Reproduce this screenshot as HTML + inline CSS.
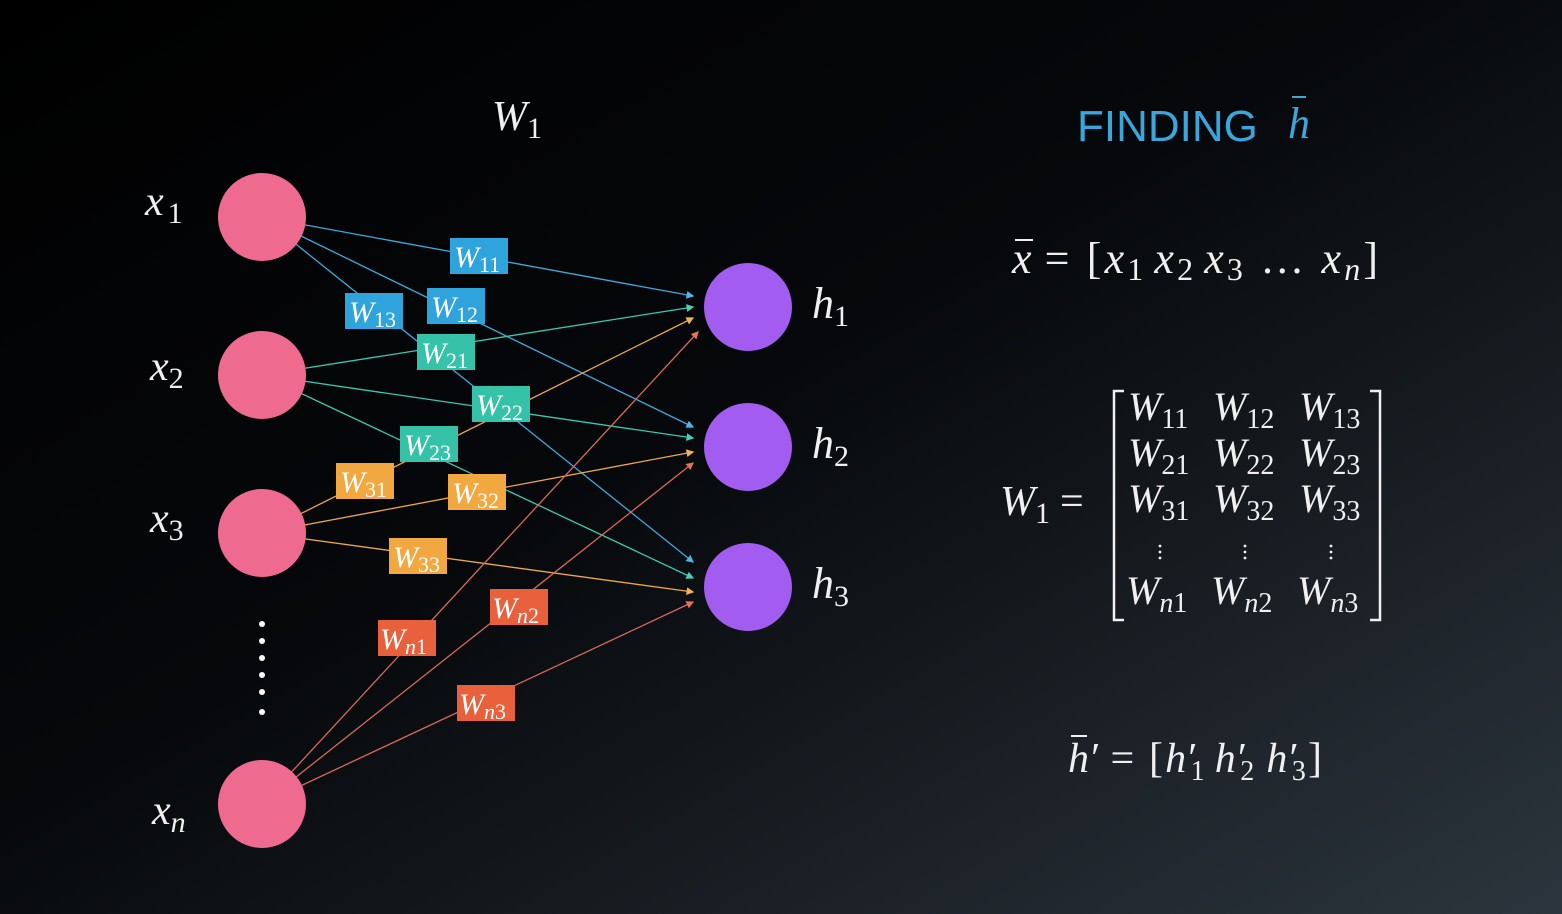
<!DOCTYPE html>
<html><head><meta charset="utf-8"><style>
html,body{margin:0;padding:0;width:1562px;height:914px;overflow:hidden;background:#000}
svg{display:block}
.m{font-family:"Liberation Serif",serif;font-style:italic;fill:#f0f0f0}
.u{font-family:"Liberation Serif",serif;font-style:normal;fill:#f0f0f0}
.lb{font-family:"Liberation Serif",serif;font-style:italic;fill:#fff;font-size:30px}
.lb .s{font-style:normal;fill:#fff}
</style></head><body>
<svg width="1562" height="914" viewBox="0 0 1562 914" xmlns="http://www.w3.org/2000/svg">
<defs>
<linearGradient id="bg" x1="0" y1="0" x2="1" y2="1">
<stop offset="0" stop-color="#000"/><stop offset="0.45" stop-color="#06080b"/><stop offset="1" stop-color="#2c353d"/>
</linearGradient>
<marker id="ab" markerWidth="6" markerHeight="6" refX="5" refY="3" orient="auto"><path d="M0,0 L6,3 L0,6z" fill="#4fb6e8"/></marker>
<marker id="at" markerWidth="6" markerHeight="6" refX="5" refY="3" orient="auto"><path d="M0,0 L6,3 L0,6z" fill="#49d0b6"/></marker>
<marker id="ao" markerWidth="6" markerHeight="6" refX="5" refY="3" orient="auto"><path d="M0,0 L6,3 L0,6z" fill="#f2b257"/></marker>
<marker id="ar" markerWidth="6" markerHeight="6" refX="5" refY="3" orient="auto"><path d="M0,0 L6,3 L0,6z" fill="#e8705a"/></marker>
</defs>
<rect width="1562" height="914" fill="url(#bg)"/>

<g stroke-width="1.3" fill="none">
<g stroke="#3fa9e0">
<line x1="262" y1="217" x2="693" y2="296" marker-end="url(#ab)"/>
<line x1="262" y1="217" x2="693" y2="427" marker-end="url(#ab)"/>
<line x1="262" y1="217" x2="693" y2="562" marker-end="url(#ab)"/>
</g>
<g stroke="#3cc8b0">
<line x1="262" y1="375" x2="693" y2="307" marker-end="url(#at)"/>
<line x1="262" y1="375" x2="693" y2="438" marker-end="url(#at)"/>
<line x1="262" y1="375" x2="693" y2="578" marker-end="url(#at)"/>
</g>
<g stroke="#eea648">
<line x1="262" y1="533" x2="693" y2="318" marker-end="url(#ao)"/>
<line x1="262" y1="533" x2="693" y2="452" marker-end="url(#ao)"/>
<line x1="262" y1="533" x2="693" y2="592" marker-end="url(#ao)"/>
</g>
<g stroke="#d8685a">
<line x1="262" y1="804" x2="698" y2="332" marker-end="url(#ar)"/>
<line x1="262" y1="804" x2="693" y2="463" marker-end="url(#ar)"/>
<line x1="262" y1="804" x2="693" y2="602" marker-end="url(#ar)"/>
</g>
</g>

<g fill="#ee6a8e">
<circle cx="262" cy="217" r="44"/><circle cx="262" cy="375" r="44"/>
<circle cx="262" cy="533" r="44"/><circle cx="262" cy="804" r="44"/>
</g>
<g fill="#fff">
<circle cx="262" cy="624" r="3"/><circle cx="262" cy="641" r="3"/><circle cx="262" cy="658" r="3"/>
<circle cx="262" cy="675" r="3"/><circle cx="262" cy="692" r="3"/><circle cx="262" cy="712" r="3"/>
</g>
<g fill="#a25cf0">
<circle cx="748" cy="307" r="44"/><circle cx="748" cy="447" r="44"/><circle cx="748" cy="587" r="44"/>
</g>

<!-- labels -->
<g>
<rect x="450" y="238" width="58" height="36" fill="#2ea3dc"/><text x="454" y="267" class="lb">W<tspan class="s" font-size="22" dy="5">11</tspan></text>
<rect x="345" y="293" width="58" height="36" fill="#2ea3dc"/><text x="349" y="322" class="lb">W<tspan class="s" font-size="22" dy="5">13</tspan></text>
<rect x="427" y="288" width="58" height="36" fill="#2ea3dc"/><text x="431" y="317" class="lb">W<tspan class="s" font-size="22" dy="5">12</tspan></text>
<rect x="417" y="334" width="58" height="36" fill="#35c2a8"/><text x="421" y="363" class="lb">W<tspan class="s" font-size="22" dy="5">21</tspan></text>
<rect x="472" y="386" width="58" height="36" fill="#35c2a8"/><text x="476" y="415" class="lb">W<tspan class="s" font-size="22" dy="5">22</tspan></text>
<rect x="400" y="426" width="58" height="36" fill="#35c2a8"/><text x="404" y="455" class="lb">W<tspan class="s" font-size="22" dy="5">23</tspan></text>
<rect x="336" y="463" width="58" height="36" fill="#f2a840"/><text x="340" y="492" class="lb">W<tspan class="s" font-size="22" dy="5">31</tspan></text>
<rect x="448" y="474" width="58" height="36" fill="#f2a840"/><text x="452" y="503" class="lb">W<tspan class="s" font-size="22" dy="5">32</tspan></text>
<rect x="389" y="538" width="58" height="36" fill="#f2a840"/><text x="393" y="567" class="lb">W<tspan class="s" font-size="22" dy="5">33</tspan></text>
<rect x="490" y="589" width="58" height="36" fill="#e8603c"/><text x="492" y="618" class="lb">W<tspan font-size="22" dy="5">n</tspan><tspan class="s" font-size="22">2</tspan></text>
<rect x="378" y="620" width="58" height="36" fill="#e8603c"/><text x="380" y="649" class="lb">W<tspan font-size="22" dy="5">n</tspan><tspan class="s" font-size="22">1</tspan></text>
<rect x="457" y="685" width="58" height="36" fill="#e8603c"/><text x="459" y="714" class="lb">W<tspan font-size="22" dy="5">n</tspan><tspan class="s" font-size="22">3</tspan></text>
</g>

<!-- node labels -->
<text x="145" y="215" class="m" font-size="42">x<tspan class="u" font-size="30" dx="4" dy="8">1</tspan></text>
<text x="150" y="380" class="m" font-size="42">x<tspan class="u" font-size="30" dy="8">2</tspan></text>
<text x="150" y="532" class="m" font-size="42">x<tspan class="u" font-size="30" dy="8">3</tspan></text>
<text x="152" y="824" class="m" font-size="42">x<tspan font-size="30" dy="8">n</tspan></text>
<text x="812" y="318" class="m" font-size="44">h<tspan class="u" font-size="30" dy="8">1</tspan></text>
<text x="812" y="458" class="m" font-size="44">h<tspan class="u" font-size="30" dy="8">2</tspan></text>
<text x="812" y="598" class="m" font-size="44">h<tspan class="u" font-size="30" dy="8">3</tspan></text>
<text x="492" y="130" class="m" font-size="42">W<tspan class="u" font-size="30" dy="8">1</tspan></text>

<!-- title -->
<text x="1077" y="141" font-family="'Liberation Sans',sans-serif" font-size="44" fill="#3aa6dc">FINDING</text>
<text x="1288" y="138" class="m" font-size="44" style="fill:#3aa6dc">h</text>
<line x1="1292" y1="97" x2="1306" y2="97" stroke="#3aa6dc" stroke-width="2"/>

<!-- x bar eq -->
<text x="1012" y="273" class="m" font-size="44" textLength="366" lengthAdjust="spacing">x<tspan class="u" dx="10">= [</tspan><tspan>x</tspan><tspan class="u" font-size="32" dy="7">1</tspan><tspan dy="-7" dx="8">x</tspan><tspan class="u" font-size="32" dy="7">2</tspan><tspan dy="-7" dx="8">x</tspan><tspan class="u" font-size="32" dy="7">3</tspan><tspan class="u" dy="-7"> … </tspan><tspan>x</tspan><tspan font-size="32" dy="7">n</tspan><tspan class="u" dy="-7">]</tspan></text>
<line x1="1015" y1="240" x2="1033" y2="240" stroke="#f0f0f0" stroke-width="2"/>

<!-- matrix -->
<text x="1000" y="515" class="m" font-size="42">W<tspan class="u" font-size="30" dy="8">1</tspan><tspan class="u" dy="-8" dx="10">=</tspan></text>
<path d="M1124,391 H1114 V620 H1124" stroke="#f0f0f0" stroke-width="2.5" fill="none"/>
<path d="M1370,391 H1380 V620 H1370" stroke="#f0f0f0" stroke-width="2.5" fill="none"/>
<g class="m" font-size="40">
<text x="1128" y="420" class="m">W<tspan class="u" font-size="28" dy="8">11</tspan></text>
<text x="1213" y="420" class="m">W<tspan class="u" font-size="28" dy="8">12</tspan></text>
<text x="1299" y="420" class="m">W<tspan class="u" font-size="28" dy="8">13</tspan></text>
<text x="1128" y="466" class="m">W<tspan class="u" font-size="28" dy="8">21</tspan></text>
<text x="1213" y="466" class="m">W<tspan class="u" font-size="28" dy="8">22</tspan></text>
<text x="1299" y="466" class="m">W<tspan class="u" font-size="28" dy="8">23</tspan></text>
<text x="1128" y="512" class="m">W<tspan class="u" font-size="28" dy="8">31</tspan></text>
<text x="1213" y="512" class="m">W<tspan class="u" font-size="28" dy="8">32</tspan></text>
<text x="1299" y="512" class="m">W<tspan class="u" font-size="28" dy="8">33</tspan></text>
<text x="1126" y="604" class="m">W<tspan font-size="28" dy="8">n</tspan><tspan class="u" font-size="28">1</tspan></text>
<text x="1211" y="604" class="m">W<tspan font-size="28" dy="8">n</tspan><tspan class="u" font-size="28">2</tspan></text>
<text x="1297" y="604" class="m">W<tspan font-size="28" dy="8">n</tspan><tspan class="u" font-size="28">3</tspan></text>
</g>
<g fill="#f0f0f0">
<circle cx="1160" cy="546" r="1.4"/><circle cx="1160" cy="552" r="1.4"/><circle cx="1160" cy="558" r="1.4"/>
<circle cx="1245" cy="546" r="1.4"/><circle cx="1245" cy="552" r="1.4"/><circle cx="1245" cy="558" r="1.4"/>
<circle cx="1331" cy="546" r="1.4"/><circle cx="1331" cy="552" r="1.4"/><circle cx="1331" cy="558" r="1.4"/>
</g>

<!-- h bar prime -->
<text x="1068" y="772" class="m" font-size="42" textLength="254" lengthAdjust="spacing">h<tspan class="u">′</tspan><tspan class="u" dx="8">= [</tspan><tspan>h</tspan><tspan class="u">′</tspan><tspan class="u" font-size="28" dx="-9" dy="8">1</tspan><tspan dy="-8" dx="8">h</tspan><tspan class="u">′</tspan><tspan class="u" font-size="28" dx="-9" dy="8">2</tspan><tspan dy="-8" dx="10">h</tspan><tspan class="u">′</tspan><tspan class="u" font-size="28" dx="-9" dy="8">3</tspan><tspan class="u" dy="-8">]</tspan></text>
<line x1="1071" y1="736" x2="1087" y2="736" stroke="#f0f0f0" stroke-width="2"/>
</svg>
</body></html>
